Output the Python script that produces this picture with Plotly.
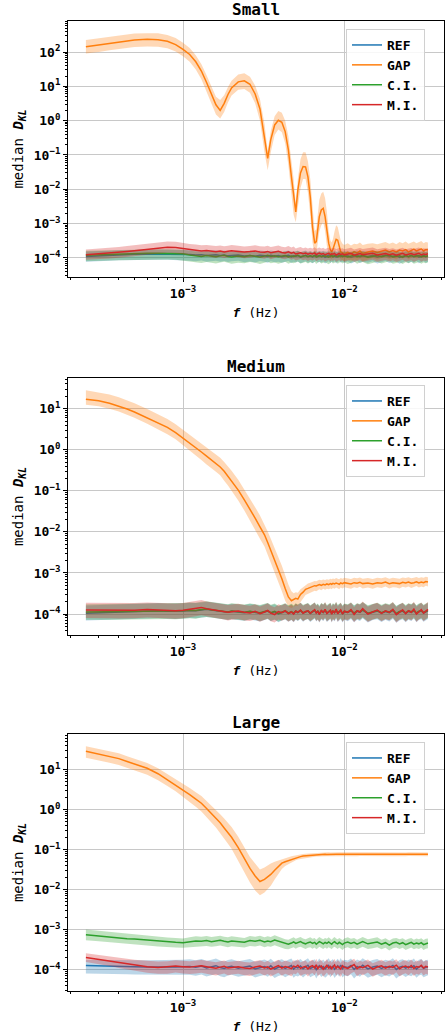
import plotly.graph_objects as go

# ---------------- data ----------------
# frequency grid in mHz
f_mhz = [0.25, 0.3, 0.35, 0.4, 0.45, 0.5, 0.6, 0.7, 0.8, 0.9, 1.0,
         1.1, 1.2, 1.3, 1.4, 1.5, 1.6, 1.7, 1.8, 1.9, 2.0,
         2.2, 2.4, 2.6, 2.8, 3.0, 3.2, 3.35, 3.5, 3.7, 3.9,
         4.1, 4.3, 4.5, 4.7, 4.85, 5.0, 5.15, 5.35, 5.55, 5.75,
         5.95, 6.15, 6.35, 6.55, 6.7, 6.85, 7.0, 7.2, 7.4, 7.6,
         7.8, 8.0, 8.2, 8.35, 8.5, 8.7, 8.9, 9.1, 9.3, 9.5,
         9.75, 10.0, 10.5, 11, 11.5, 12, 12.5, 13, 14, 15,
         16, 17, 18, 19, 20, 21, 22, 23, 24, 25,
         26, 27, 28, 29, 30, 31, 32, 33]

NOISE_UNIT = 1e-4  # REF / C.I. / M.I. values below are given in units of 1e-4

# ----- Small -----
gap_s = [143, 160, 180, 198, 213, 225, 234, 228, 205, 165, 120,
         85, 52, 28, 13, 6.0, 2.9, 2.0, 3.2, 5.8, 9.0,
         13.5, 14.5, 11.5, 6.0, 2.2, 0.34, 0.08, 0.28, 0.75, 1.03,
         0.9, 0.48, 0.14, 0.023, 0.006, 0.0022, 0.0095, 0.03, 0.046, 0.045,
         0.023, 0.006, 0.0008, 0.00027, 0.0003, 0.0008, 0.0016, 0.0025, 0.0028, 0.0016,
         0.00064, 0.00027, 0.00017, 0.00015, 0.00018, 0.00027, 0.00035, 0.00033, 0.0002, 0.00015,
         0.00014, 0.00013, 0.000145, 0.00013, 0.00015, 0.00014, 0.00016, 0.000135, 0.00015, 0.00016,
         0.000145, 0.00016, 0.00017, 0.00015, 0.000165, 0.00015, 0.00017, 0.00016, 0.000175, 0.00015,
         0.000165, 0.00018, 0.00016, 0.00017, 0.000185, 0.00016, 0.000175, 0.00017]
gap_s_hi = [224, 250, 280, 305, 330, 345, 355, 350, 315, 255, 185,
            130, 80, 44, 21, 10, 5.0, 4.0, 5.5, 9.5, 14.5,
            22, 24, 19, 10.5, 4.2, 0.8, 0.13, 0.5, 1.35, 1.9,
            1.7, 1.0, 0.35, 0.07, 0.02, 0.004, 0.02, 0.075, 0.12, 0.12,
            0.065, 0.02, 0.0035, 0.0006, 0.0007, 0.0025, 0.005, 0.0075, 0.0085, 0.0055,
            0.0022, 0.0006, 0.00032, 0.00028, 0.00035, 0.0006, 0.0009, 0.0008, 0.0005, 0.00032,
            0.00026, 0.00024, 0.00027, 0.00023, 0.00026, 0.00025, 0.00028, 0.00024, 0.00026, 0.00027,
            0.00025, 0.00027, 0.00029, 0.00026, 0.00028, 0.00025, 0.00029, 0.00027, 0.0003, 0.00026,
            0.00028, 0.0003, 0.00027, 0.00029, 0.00031, 0.00027, 0.00029, 0.00028]
gap_s_lo = [90, 100, 113, 124, 133, 140, 146, 142, 128, 103, 75,
            52, 31, 16, 7.0, 3.0, 1.5, 1.15, 1.8, 3.4, 5.4,
            8.0, 8.3, 6.5, 3.2, 1.0, 0.12, 0.036, 0.12, 0.38, 0.55,
            0.46, 0.22, 0.05, 0.007, 0.0018, 0.0011, 0.003, 0.011, 0.02, 0.02,
            0.008, 0.0018, 0.00028, 0.00012, 0.00013, 0.00028, 0.0006, 0.0009, 0.0011, 0.0006,
            0.00022, 0.00012, 0.0001, 0.00009, 0.0001, 0.00013, 0.00017, 0.00016, 0.00011, 0.00009,
            0.000085, 0.00008, 0.00009, 0.000078, 0.00009, 0.000085, 0.000095, 0.00008, 0.00009, 0.0001,
            0.000088, 0.0001, 0.000105, 0.00009, 0.0001, 0.00009, 0.000105, 0.000095, 0.00011, 0.00009,
            0.0001, 0.00011, 0.000095, 0.0001, 0.00011, 0.000095, 0.000105, 0.0001]

ref_s = [1.10, 1.15, 1.20, 1.24, 1.27, 1.28, 1.30, 1.30, 1.31, 1.30, 1.28,
         1.26, 1.22, 1.25, 1.18, 1.20, 1.23, 1.17, 1.21, 1.15, 1.19,
         1.22, 1.14, 1.18, 1.12, 1.20, 1.16, 1.10, 1.19, 1.13, 1.17,
         1.09, 1.14, 1.20, 1.08, 1.15, 1.12, 1.18, 1.06, 1.13, 1.19,
         1.10, 1.16, 1.07, 1.14, 1.21, 1.09, 1.15, 1.11, 1.18, 1.05,
         1.14, 1.20, 1.08, 1.16, 1.11, 1.19, 1.06, 1.13, 1.22, 1.09,
         1.15, 1.10, 1.18, 1.04, 1.14, 1.21, 1.07, 1.16, 1.10, 1.19,
         1.05, 1.15, 1.22, 1.08, 1.13, 1.18, 1.03, 1.12, 1.20, 1.07,
         1.16, 1.11, 1.21, 1.06, 1.14, 1.19, 1.09, 1.15]
ref_s_lo = [0.78, 0.80, 0.83, 0.85, 0.86, 0.87, 0.88, 0.88, 0.88, 0.87, 0.85,
            0.83, 0.80, 0.84, 0.78, 0.81, 0.83, 0.77, 0.82, 0.76, 0.80,
            0.83, 0.75, 0.79, 0.74, 0.81, 0.77, 0.73, 0.80, 0.75, 0.78,
            0.72, 0.76, 0.81, 0.71, 0.77, 0.74, 0.79, 0.70, 0.75, 0.80,
            0.73, 0.77, 0.70, 0.76, 0.81, 0.72, 0.77, 0.74, 0.79, 0.69,
            0.76, 0.80, 0.71, 0.77, 0.74, 0.80, 0.70, 0.75, 0.82, 0.72,
            0.77, 0.73, 0.79, 0.69, 0.76, 0.81, 0.71, 0.77, 0.73, 0.80,
            0.69, 0.76, 0.82, 0.71, 0.75, 0.79, 0.68, 0.74, 0.80, 0.71,
            0.77, 0.73, 0.81, 0.70, 0.76, 0.80, 0.72, 0.76]
ref_s_hi = [1.55, 1.60, 1.65, 1.70, 1.73, 1.75, 1.77, 1.77, 1.78, 1.77, 1.75,
            1.72, 1.66, 1.70, 1.62, 1.65, 1.68, 1.60, 1.66, 1.58, 1.63,
            1.67, 1.57, 1.62, 1.54, 1.65, 1.59, 1.52, 1.64, 1.56, 1.61,
            1.50, 1.57, 1.65, 1.49, 1.58, 1.54, 1.62, 1.46, 1.55, 1.64,
            1.52, 1.60, 1.47, 1.57, 1.66, 1.50, 1.58, 1.53, 1.62, 1.45,
            1.57, 1.65, 1.49, 1.60, 1.53, 1.64, 1.46, 1.56, 1.68, 1.50,
            1.58, 1.52, 1.62, 1.44, 1.57, 1.66, 1.48, 1.60, 1.52, 1.64,
            1.45, 1.58, 1.68, 1.49, 1.56, 1.62, 1.43, 1.55, 1.65, 1.48,
            1.60, 1.53, 1.66, 1.46, 1.57, 1.64, 1.50, 1.58]

ci_s = [1.20, 1.24, 1.28, 1.31, 1.33, 1.35, 1.36, 1.36, 1.37, 1.35, 1.32,
        1.22, 1.15, 1.10, 1.18, 1.12, 1.08, 1.15, 1.20, 1.11, 1.07,
        1.14, 1.09, 1.17, 1.12, 1.06, 1.13, 1.19, 1.10, 1.15, 1.08,
        1.12, 1.18, 1.07, 1.14, 1.10, 1.16, 1.20, 1.09, 1.13, 1.17,
        1.08, 1.15, 1.11, 1.19, 1.06, 1.14, 1.18, 1.09, 1.12, 1.16,
        1.10, 1.05, 1.14, 1.19, 1.08, 1.13, 1.17, 1.07, 1.12, 1.18,
        1.09, 1.15, 1.06, 1.13, 1.20, 1.08, 1.14, 1.17, 1.05, 1.12,
        1.18, 1.09, 1.14, 1.21, 1.07, 1.13, 1.16, 1.06, 1.15, 1.10,
        1.19, 1.08, 1.13, 1.17, 1.07, 1.14, 1.10, 1.16]
ci_s_lo = [0.80, 0.82, 0.84, 0.86, 0.88, 0.89, 0.90, 0.90, 0.90, 0.88, 0.85,
           0.78, 0.74, 0.71, 0.76, 0.72, 0.69, 0.74, 0.78, 0.71, 0.68,
           0.73, 0.70, 0.76, 0.72, 0.67, 0.73, 0.78, 0.70, 0.74, 0.68,
           0.72, 0.77, 0.68, 0.74, 0.70, 0.75, 0.79, 0.69, 0.73, 0.76,
           0.69, 0.75, 0.71, 0.78, 0.67, 0.74, 0.77, 0.69, 0.72, 0.75,
           0.70, 0.66, 0.74, 0.78, 0.69, 0.73, 0.76, 0.68, 0.72, 0.77,
           0.69, 0.75, 0.67, 0.73, 0.79, 0.68, 0.74, 0.76, 0.66, 0.72,
           0.77, 0.69, 0.74, 0.80, 0.68, 0.73, 0.75, 0.67, 0.75, 0.70,
           0.78, 0.68, 0.73, 0.76, 0.68, 0.74, 0.70, 0.75]
ci_s_hi = [1.62, 1.66, 1.70, 1.73, 1.75, 1.77, 1.78, 1.78, 1.79, 1.77, 1.74,
           1.62, 1.55, 1.50, 1.58, 1.52, 1.47, 1.55, 1.60, 1.50, 1.46,
           1.54, 1.48, 1.57, 1.52, 1.45, 1.53, 1.59, 1.49, 1.55, 1.47,
           1.52, 1.58, 1.46, 1.54, 1.49, 1.56, 1.61, 1.48, 1.53, 1.57,
           1.47, 1.55, 1.50, 1.60, 1.44, 1.54, 1.58, 1.48, 1.52, 1.56,
           1.49, 1.43, 1.54, 1.60, 1.47, 1.53, 1.57, 1.46, 1.52, 1.59,
           1.48, 1.55, 1.45, 1.53, 1.61, 1.47, 1.54, 1.58, 1.44, 1.52,
           1.59, 1.48, 1.54, 1.62, 1.46, 1.53, 1.56, 1.45, 1.55, 1.49,
           1.60, 1.47, 1.53, 1.58, 1.46, 1.54, 1.49, 1.56]

mi_s = [1.25, 1.32, 1.40, 1.48, 1.55, 1.62, 1.75, 1.90, 2.05, 2.00, 1.85,
        1.75, 1.68, 1.60, 1.64, 1.55, 1.52, 1.58, 1.50, 1.56, 1.62,
        1.55, 1.48, 1.53, 1.60, 1.50, 1.46, 1.55, 1.42, 1.50, 1.56,
        1.45, 1.40, 1.52, 1.38, 1.46, 1.30, 1.35, 1.42, 1.32, 1.38,
        1.28, 1.36, 1.30, 1.40, 1.26, 1.33, 1.38, 1.29, 1.35, 1.24,
        1.31, 1.37, 1.25, 1.32, 1.28, 1.36, 1.22, 1.30, 1.35, 1.26,
        1.32, 1.23, 1.30, 1.36, 1.21, 1.29, 1.34, 1.24, 1.31, 1.37,
        1.22, 1.30, 1.35, 1.25, 1.32, 1.20, 1.29, 1.36, 1.23, 1.31,
        1.34, 1.24, 1.30, 1.37, 1.22, 1.31, 1.27, 1.33]
mi_s_lo = [0.88, 0.92, 0.97, 1.02, 1.07, 1.12, 1.22, 1.32, 1.42, 1.38, 1.28,
           1.20, 1.15, 1.08, 1.12, 1.05, 1.02, 1.07, 1.00, 1.05, 1.10,
           1.04, 0.98, 1.02, 1.08, 0.99, 0.95, 1.03, 0.92, 0.99, 1.04,
           0.95, 0.91, 1.00, 0.89, 0.95, 0.84, 0.88, 0.93, 0.85, 0.90,
           0.82, 0.89, 0.84, 0.92, 0.80, 0.86, 0.90, 0.83, 0.88, 0.79,
           0.84, 0.89, 0.80, 0.85, 0.82, 0.88, 0.78, 0.83, 0.87, 0.80,
           0.85, 0.78, 0.83, 0.88, 0.77, 0.82, 0.86, 0.78, 0.84, 0.89,
           0.77, 0.83, 0.87, 0.79, 0.85, 0.76, 0.82, 0.88, 0.78, 0.84,
           0.86, 0.78, 0.83, 0.89, 0.77, 0.84, 0.81, 0.85]
mi_s_hi = [1.75, 1.85, 1.98, 2.10, 2.22, 2.35, 2.55, 2.80, 3.00, 2.95, 2.70,
           2.55, 2.45, 2.35, 2.40, 2.28, 2.22, 2.32, 2.20, 2.28, 2.38,
           2.27, 2.17, 2.24, 2.35, 2.20, 2.14, 2.27, 2.08, 2.20, 2.29,
           2.12, 2.05, 2.23, 2.02, 2.14, 1.90, 1.98, 2.08, 1.93, 2.02,
           1.87, 1.99, 1.90, 2.05, 1.84, 1.95, 2.02, 1.89, 1.98, 1.81,
           1.92, 2.01, 1.83, 1.93, 1.87, 1.99, 1.78, 1.90, 1.98, 1.84,
           1.93, 1.80, 1.90, 1.99, 1.77, 1.89, 1.96, 1.81, 1.91, 2.00,
           1.78, 1.90, 1.97, 1.83, 1.93, 1.75, 1.89, 1.99, 1.80, 1.91,
           1.96, 1.81, 1.90, 2.00, 1.78, 1.91, 1.86, 1.94]

# ----- Medium -----
gap_m = [17, 15.5, 13.5, 11.5, 9.8, 8.3, 6.0, 4.5, 3.5, 2.6, 1.93,
         1.45, 1.1, 0.88, 0.70, 0.57, 0.47, 0.38, 0.30, 0.225, 0.178,
         0.104, 0.06, 0.036, 0.0217, 0.0133, 0.0085, 0.0055, 0.0036, 0.0021, 0.00122,
         0.00072, 0.00042, 0.00026, 0.00021, 0.00022, 0.00024, 0.00023, 0.0003, 0.00034, 0.0004,
         0.00042, 0.00044, 0.00047, 0.00049, 0.00048, 0.0005, 0.00052, 0.0005, 0.00053, 0.00051,
         0.00054, 0.00052, 0.00055, 0.00053, 0.00056, 0.00054, 0.00057, 0.00055, 0.00053, 0.00057,
         0.00055, 0.00058, 0.00056, 0.00054, 0.00058, 0.00056, 0.00059, 0.00055, 0.00057, 0.00054,
         0.00058, 0.00056, 0.0006, 0.00055, 0.00058, 0.00057, 0.00055, 0.00059, 0.00057, 0.0006,
         0.00056, 0.00058, 0.00061, 0.00057, 0.0006, 0.00058, 0.00062, 0.0006]
gap_m_hi = [28, 25, 22, 19, 16, 13.5, 9.8, 7.3, 5.6, 4.2, 3.1,
            2.35, 1.8, 1.45, 1.15, 0.95, 0.78, 0.64, 0.5, 0.39, 0.31,
            0.185, 0.108, 0.066, 0.04, 0.025, 0.0155, 0.0102, 0.0068, 0.0041, 0.0025,
            0.0015, 0.00088, 0.00052, 0.00036, 0.00032, 0.00034, 0.00033, 0.0004, 0.00045, 0.00052,
            0.00055, 0.00058, 0.00061, 0.00064, 0.00063, 0.00065, 0.00068, 0.00066, 0.00069, 0.00067,
            0.0007, 0.00068, 0.00072, 0.0007, 0.00073, 0.00071, 0.00075, 0.00072, 0.0007, 0.00075,
            0.00072, 0.00076, 0.00074, 0.00071, 0.00076, 0.00074, 0.00077, 0.00072, 0.00075, 0.00071,
            0.00076, 0.00074, 0.00079, 0.00072, 0.00076, 0.00075, 0.00072, 0.00078, 0.00075, 0.00079,
            0.00074, 0.00076, 0.0008, 0.00075, 0.00079, 0.00076, 0.00081, 0.00079]
gap_m_lo = [12.5, 11.5, 10, 8.5, 7.2, 6, 4.3, 3.2, 2.4, 1.8, 1.3,
            0.95, 0.72, 0.56, 0.44, 0.35, 0.29, 0.24, 0.175, 0.135, 0.105,
            0.058, 0.033, 0.019, 0.0113, 0.0068, 0.0044, 0.0028, 0.0018, 0.00105, 0.0006,
            0.00036, 0.00021, 0.00015, 0.00014, 0.00015, 0.00016, 0.00016, 0.0002, 0.00024, 0.00029,
            0.00031, 0.00033, 0.00035, 0.00037, 0.00036, 0.00038, 0.0004, 0.00038, 0.00041, 0.00039,
            0.00041, 0.0004, 0.00042, 0.0004, 0.00043, 0.00041, 0.00044, 0.00042, 0.0004, 0.00044,
            0.00042, 0.00045, 0.00043, 0.00041, 0.00045, 0.00043, 0.00046, 0.00042, 0.00044, 0.00041,
            0.00045, 0.00043, 0.00047, 0.00042, 0.00045, 0.00044, 0.00042, 0.00046, 0.00044, 0.00047,
            0.00043, 0.00045, 0.00048, 0.00044, 0.00047, 0.00045, 0.00049, 0.00047]

ref_m = [1.05, 1.08, 1.10, 1.12, 1.13, 1.15, 1.18, 1.20, 1.17, 1.15, 1.18,
         1.22, 1.20, 1.25, 1.30, 1.26, 1.22, 1.18, 1.14, 1.10, 1.16,
         1.12, 1.08, 1.15, 1.10, 1.05, 1.12, 1.18, 1.06, 1.13, 1.00,
         1.10, 1.16, 1.04, 1.12, 1.02, 1.15, 1.08, 1.20, 1.05, 1.13,
         1.18, 1.03, 1.11, 1.22, 1.06, 1.14, 1.00, 1.17, 1.09, 1.21,
         1.04, 1.13, 1.19, 1.02, 1.15, 1.08, 1.23, 1.05, 1.12, 1.18,
         1.01, 1.14, 1.09, 1.20, 1.03, 1.16, 1.10, 1.24, 1.02, 1.13,
         1.19, 1.05, 1.15, 1.08, 1.22, 1.00, 1.12, 1.18, 1.04, 1.16,
         1.10, 1.21, 1.03, 1.14, 1.19, 1.06, 1.13, 1.20]
ref_m_lo = [0.70, 0.72, 0.73, 0.74, 0.75, 0.76, 0.78, 0.79, 0.77, 0.76, 0.78,
            0.80, 0.79, 0.82, 0.85, 0.82, 0.80, 0.77, 0.74, 0.71, 0.75,
            0.72, 0.69, 0.74, 0.70, 0.66, 0.72, 0.76, 0.67, 0.72, 0.63,
            0.70, 0.74, 0.65, 0.71, 0.63, 0.73, 0.68, 0.76, 0.65, 0.72,
            0.75, 0.64, 0.70, 0.78, 0.66, 0.72, 0.62, 0.74, 0.68, 0.77,
            0.64, 0.71, 0.76, 0.62, 0.73, 0.67, 0.78, 0.64, 0.70, 0.75,
            0.62, 0.72, 0.67, 0.76, 0.63, 0.73, 0.68, 0.79, 0.62, 0.71,
            0.75, 0.64, 0.72, 0.66, 0.77, 0.61, 0.70, 0.75, 0.63, 0.73,
            0.68, 0.77, 0.63, 0.71, 0.75, 0.65, 0.70, 0.76]
ref_m_hi = [1.62, 1.66, 1.70, 1.73, 1.75, 1.78, 1.82, 1.85, 1.80, 1.78, 1.82,
            1.88, 1.85, 1.92, 2.00, 1.94, 1.88, 1.82, 1.76, 1.70, 1.78,
            1.72, 1.66, 1.77, 1.70, 1.62, 1.72, 1.82, 1.63, 1.74, 1.55,
            1.70, 1.79, 1.60, 1.72, 1.57, 1.77, 1.66, 1.85, 1.62, 1.74,
            1.82, 1.59, 1.71, 1.88, 1.63, 1.76, 1.55, 1.80, 1.68, 1.86,
            1.60, 1.74, 1.83, 1.57, 1.77, 1.66, 1.89, 1.62, 1.72, 1.82,
            1.56, 1.76, 1.68, 1.85, 1.59, 1.79, 1.70, 1.91, 1.57, 1.74,
            1.83, 1.62, 1.77, 1.66, 1.88, 1.54, 1.72, 1.82, 1.60, 1.79,
            1.70, 1.86, 1.59, 1.76, 1.83, 1.63, 1.74, 1.85]

ci_m = [1.12, 1.13, 1.14, 1.14, 1.15, 1.16, 1.18, 1.19, 1.18, 1.17, 1.20,
        1.24, 1.21, 1.28, 1.32, 1.27, 1.23, 1.20, 1.16, 1.12, 1.18,
        1.14, 1.10, 1.17, 1.12, 1.07, 1.15, 1.20, 1.08, 1.16, 1.03,
        1.13, 1.19, 1.06, 1.14, 1.05, 1.18, 1.10, 1.22, 1.08, 1.16,
        1.20, 1.06, 1.14, 1.24, 1.09, 1.17, 1.03, 1.20, 1.12, 1.23,
        1.07, 1.16, 1.22, 1.05, 1.18, 1.11, 1.26, 1.08, 1.15, 1.21,
        1.04, 1.17, 1.12, 1.23, 1.06, 1.19, 1.13, 1.27, 1.05, 1.16,
        1.22, 1.08, 1.18, 1.11, 1.25, 1.03, 1.15, 1.21, 1.07, 1.19,
        1.13, 1.24, 1.06, 1.17, 1.22, 1.09, 1.16, 1.23]
ci_m_lo = [0.72, 0.72, 0.73, 0.73, 0.74, 0.74, 0.76, 0.76, 0.76, 0.75, 0.77,
           0.79, 0.77, 0.82, 0.84, 0.81, 0.79, 0.77, 0.74, 0.72, 0.76,
           0.73, 0.70, 0.75, 0.72, 0.68, 0.74, 0.77, 0.69, 0.74, 0.66,
           0.72, 0.76, 0.68, 0.73, 0.67, 0.76, 0.70, 0.78, 0.69, 0.74,
           0.77, 0.68, 0.73, 0.79, 0.70, 0.75, 0.66, 0.77, 0.72, 0.79,
           0.68, 0.74, 0.78, 0.67, 0.76, 0.71, 0.81, 0.69, 0.74, 0.77,
           0.67, 0.75, 0.72, 0.79, 0.68, 0.76, 0.72, 0.81, 0.67, 0.74,
           0.78, 0.69, 0.76, 0.71, 0.80, 0.66, 0.74, 0.77, 0.68, 0.76,
           0.72, 0.79, 0.68, 0.75, 0.78, 0.70, 0.74, 0.79]
ci_m_hi = [1.74, 1.75, 1.77, 1.77, 1.78, 1.80, 1.83, 1.84, 1.83, 1.81, 1.86,
           1.92, 1.88, 1.98, 2.05, 1.97, 1.91, 1.86, 1.80, 1.74, 1.83,
           1.77, 1.71, 1.81, 1.74, 1.66, 1.78, 1.86, 1.67, 1.80, 1.60,
           1.75, 1.84, 1.64, 1.77, 1.63, 1.83, 1.71, 1.89, 1.67, 1.80,
           1.86, 1.64, 1.77, 1.92, 1.69, 1.81, 1.60, 1.86, 1.74, 1.91,
           1.66, 1.80, 1.89, 1.63, 1.83, 1.72, 1.95, 1.67, 1.78, 1.88,
           1.61, 1.81, 1.74, 1.91, 1.64, 1.84, 1.75, 1.97, 1.63, 1.80,
           1.89, 1.67, 1.83, 1.72, 1.94, 1.60, 1.78, 1.88, 1.66, 1.84,
           1.75, 1.92, 1.64, 1.81, 1.89, 1.69, 1.80, 1.91]

mi_m = [1.25, 1.25, 1.24, 1.22, 1.21, 1.23, 1.28, 1.26, 1.22, 1.20, 1.24,
        1.30, 1.38, 1.45, 1.35, 1.28, 1.25, 1.20, 1.15, 1.10, 1.14,
        1.18, 1.10, 1.06, 1.16, 1.02, 1.12, 1.22, 1.05, 0.97, 1.15,
        1.08, 1.20, 1.02, 1.12, 1.00, 1.18, 1.10, 1.25, 1.05, 1.15,
        1.20, 1.04, 1.14, 1.28, 1.06, 1.16, 0.98, 1.22, 1.10, 1.30,
        1.03, 1.15, 1.24, 0.99, 1.18, 1.08, 1.32, 1.02, 1.14, 1.26,
        1.00, 1.17, 1.10, 1.28, 0.98, 1.20, 1.12, 1.35, 1.00, 1.15,
        1.25, 1.04, 1.19, 1.09, 1.30, 0.97, 1.14, 1.26, 1.02, 1.20,
        1.10, 1.32, 1.00, 1.16, 1.27, 1.05, 1.15, 1.30]
mi_m_lo = [0.80, 0.80, 0.79, 0.78, 0.77, 0.79, 0.82, 0.81, 0.78, 0.77, 0.79,
           0.83, 0.88, 0.93, 0.86, 0.82, 0.80, 0.77, 0.74, 0.70, 0.73,
           0.76, 0.70, 0.68, 0.74, 0.65, 0.72, 0.78, 0.67, 0.62, 0.74,
           0.69, 0.77, 0.65, 0.72, 0.64, 0.76, 0.70, 0.80, 0.67, 0.74,
           0.77, 0.67, 0.73, 0.82, 0.68, 0.74, 0.63, 0.78, 0.70, 0.83,
           0.66, 0.74, 0.79, 0.63, 0.76, 0.69, 0.84, 0.65, 0.73, 0.81,
           0.64, 0.75, 0.70, 0.82, 0.63, 0.77, 0.72, 0.86, 0.64, 0.74,
           0.80, 0.67, 0.76, 0.70, 0.83, 0.62, 0.73, 0.81, 0.65, 0.77,
           0.70, 0.84, 0.64, 0.74, 0.81, 0.67, 0.74, 0.83]
mi_m_hi = [1.88, 1.88, 1.86, 1.83, 1.82, 1.85, 1.92, 1.89, 1.83, 1.80, 1.86,
           1.95, 2.07, 2.18, 2.03, 1.92, 1.88, 1.80, 1.73, 1.65, 1.71,
           1.77, 1.65, 1.59, 1.74, 1.53, 1.68, 1.83, 1.58, 1.46, 1.73,
           1.62, 1.80, 1.53, 1.68, 1.50, 1.77, 1.65, 1.88, 1.58, 1.73,
           1.80, 1.56, 1.71, 1.92, 1.59, 1.74, 1.47, 1.83, 1.65, 1.95,
           1.55, 1.73, 1.86, 1.49, 1.77, 1.62, 1.98, 1.53, 1.71, 1.89,
           1.50, 1.76, 1.65, 1.92, 1.47, 1.80, 1.68, 2.03, 1.50, 1.73,
           1.88, 1.56, 1.79, 1.64, 1.95, 1.46, 1.71, 1.89, 1.53, 1.80,
           1.65, 1.98, 1.50, 1.74, 1.91, 1.58, 1.73, 1.95]

# ----- Large -----
gap_l = [29, 24.7, 21.6, 19.0, 16.1, 14.0, 10.9, 7.95, 5.66, 4.19, 3.2,
         2.4, 1.85, 1.45, 1.07, 0.81, 0.62, 0.47, 0.35, 0.267, 0.205,
         0.113, 0.059, 0.034, 0.022, 0.016, 0.018, 0.021, 0.024, 0.0306, 0.038,
         0.046, 0.0497, 0.053, 0.057, 0.059, 0.062, 0.065, 0.067, 0.069, 0.070,
         0.071, 0.072, 0.073, 0.074, 0.075, 0.0755, 0.076, 0.0762, 0.0758, 0.0765,
         0.0762, 0.0768, 0.0764, 0.077, 0.0766, 0.0762, 0.0768, 0.0765, 0.0771, 0.0766,
         0.0763, 0.0769, 0.0765, 0.0772, 0.0767, 0.0764, 0.077, 0.0766, 0.0773, 0.0768,
         0.0765, 0.0771, 0.0767, 0.0763, 0.0769, 0.0774, 0.0766, 0.077, 0.0765, 0.0772,
         0.0768, 0.0764, 0.077, 0.0767, 0.0773, 0.0766, 0.0769, 0.0765]
gap_l_hi = [39, 33.5, 29.3, 25.8, 21.8, 19.0, 14.8, 10.9, 7.8, 5.9, 4.6,
            3.5, 2.75, 2.2, 1.65, 1.28, 1.0, 0.77, 0.6, 0.47, 0.37,
            0.21, 0.11, 0.066, 0.045, 0.032, 0.036, 0.041, 0.045, 0.05, 0.054,
            0.059, 0.062, 0.065, 0.068, 0.07, 0.072, 0.075, 0.077, 0.078, 0.079,
            0.08, 0.081, 0.082, 0.083, 0.084, 0.0845, 0.085, 0.0852, 0.0848, 0.0855,
            0.0852, 0.0858, 0.0854, 0.086, 0.0856, 0.0852, 0.0858, 0.0855, 0.0861, 0.0856,
            0.0853, 0.0859, 0.0855, 0.0862, 0.0857, 0.0854, 0.086, 0.0856, 0.0863, 0.0858,
            0.0855, 0.0861, 0.0857, 0.0853, 0.0859, 0.0864, 0.0856, 0.086, 0.0855, 0.0862,
            0.0858, 0.0854, 0.086, 0.0857, 0.0863, 0.0856, 0.0859, 0.0855]
gap_l_lo = [20, 17, 14.9, 13.1, 11.1, 9.7, 7.5, 5.5, 3.9, 2.9, 2.1,
            1.55, 1.18, 0.9, 0.65, 0.48, 0.36, 0.26, 0.19, 0.14, 0.105,
            0.055, 0.027, 0.015, 0.0095, 0.0072, 0.0085, 0.0105, 0.0125, 0.018, 0.025,
            0.033, 0.039, 0.044, 0.048, 0.051, 0.054, 0.057, 0.059, 0.061, 0.062,
            0.063, 0.064, 0.065, 0.066, 0.067, 0.0675, 0.068, 0.0682, 0.0678, 0.0685,
            0.0682, 0.0688, 0.0684, 0.069, 0.0686, 0.0682, 0.0688, 0.0685, 0.0691, 0.0686,
            0.0683, 0.0689, 0.0685, 0.0692, 0.0687, 0.0684, 0.069, 0.0686, 0.0693, 0.0688,
            0.0685, 0.0691, 0.0687, 0.0683, 0.0689, 0.0694, 0.0686, 0.069, 0.0685, 0.0692,
            0.0688, 0.0684, 0.069, 0.0687, 0.0693, 0.0686, 0.0689, 0.0685]

ref_l = [1.26, 1.25, 1.24, 1.22, 1.20, 1.18, 1.15, 1.14, 1.16, 1.15, 1.17,
         1.20, 1.14, 1.22, 1.10, 1.18, 1.25, 1.12, 1.06, 1.16, 1.21,
         1.08, 1.15, 1.22, 1.04, 1.13, 1.19, 1.09, 1.24, 1.02, 1.14,
         1.20, 1.07, 1.17, 1.26, 1.03, 1.15, 1.10, 1.22, 1.05, 1.18,
         1.28, 1.06, 1.14, 1.20, 1.00, 1.16, 1.25, 1.08, 1.19, 1.04,
         1.13, 1.27, 1.07, 1.18, 1.22, 1.02, 1.15, 1.24, 1.09, 1.30,
         1.05, 1.17, 1.12, 1.26, 1.01, 1.19, 1.10, 1.28, 1.04, 1.16,
         1.22, 1.06, 1.18, 1.11, 1.27, 1.00, 1.15, 1.21, 1.08, 1.19,
         1.12, 1.25, 1.03, 1.17, 1.22, 1.07, 1.14, 1.18]
ref_l_lo = [0.80, 0.79, 0.78, 0.77, 0.76, 0.75, 0.73, 0.72, 0.73, 0.72, 0.74,
            0.74, 0.70, 0.75, 0.67, 0.72, 0.77, 0.68, 0.64, 0.71, 0.74,
            0.66, 0.70, 0.75, 0.63, 0.69, 0.73, 0.66, 0.76, 0.61, 0.69,
            0.73, 0.64, 0.71, 0.77, 0.62, 0.70, 0.67, 0.74, 0.63, 0.72,
            0.78, 0.64, 0.69, 0.73, 0.60, 0.70, 0.76, 0.65, 0.72, 0.62,
            0.68, 0.77, 0.64, 0.72, 0.74, 0.61, 0.70, 0.75, 0.66, 0.79,
            0.63, 0.71, 0.68, 0.76, 0.60, 0.72, 0.66, 0.78, 0.62, 0.70,
            0.74, 0.64, 0.72, 0.67, 0.77, 0.60, 0.70, 0.73, 0.65, 0.72,
            0.68, 0.76, 0.62, 0.71, 0.74, 0.64, 0.69, 0.72]
ref_l_hi = [1.75, 1.76, 1.76, 1.75, 1.74, 1.72, 1.70, 1.70, 1.72, 1.72, 1.75,
            1.80, 1.71, 1.83, 1.65, 1.77, 1.88, 1.68, 1.59, 1.74, 1.82,
            1.62, 1.73, 1.83, 1.56, 1.70, 1.79, 1.64, 1.86, 1.53, 1.71,
            1.80, 1.61, 1.76, 1.89, 1.55, 1.73, 1.65, 1.83, 1.58, 1.77,
            1.92, 1.59, 1.71, 1.80, 1.50, 1.74, 1.88, 1.62, 1.79, 1.56,
            1.70, 1.91, 1.61, 1.77, 1.83, 1.53, 1.73, 1.86, 1.64, 1.95,
            1.58, 1.76, 1.68, 1.89, 1.52, 1.79, 1.65, 1.92, 1.56, 1.74,
            1.83, 1.59, 1.77, 1.67, 1.91, 1.50, 1.73, 1.82, 1.62, 1.79,
            1.68, 1.88, 1.55, 1.76, 1.83, 1.61, 1.71, 1.77]

ci_l = [7.4, 6.9, 6.4, 6.0, 5.9, 5.8, 5.4, 5.1, 4.9, 4.8, 4.7,
        4.9, 5.2, 5.1, 5.3, 5.0, 5.2, 5.4, 5.1, 4.9, 5.2,
        5.0, 4.8, 5.3, 5.1, 5.4, 4.9, 5.2, 5.0, 5.5, 5.1,
        4.7, 4.4, 4.3, 4.6, 4.9, 4.5, 4.8, 5.0, 4.6, 4.4,
        4.7, 4.9, 4.5, 4.8, 4.3, 4.6, 5.0, 4.7, 4.4, 4.8,
        4.5, 4.9, 4.6, 4.3, 4.7, 5.0, 4.6, 4.4, 4.8, 4.5,
        4.2, 4.6, 4.9, 4.5, 4.8, 4.3, 4.7, 5.0, 4.4, 4.6,
        4.9, 4.3, 4.7, 4.1, 4.6, 4.8, 4.4, 4.7, 4.2, 4.5,
        4.8, 4.3, 4.6, 4.4, 4.7, 4.2, 4.5, 4.6]
ci_l_lo = [5.4, 5.1, 4.8, 4.5, 4.4, 4.3, 4.0, 3.8, 3.6, 3.55, 3.5,
           3.6, 3.85, 3.8, 3.9, 3.7, 3.85, 4.0, 3.8, 3.6, 3.85,
           3.7, 3.55, 3.9, 3.8, 4.0, 3.6, 3.85, 3.7, 4.05, 3.8,
           3.5, 3.25, 3.2, 3.4, 3.6, 3.3, 3.55, 3.7, 3.4, 3.25,
           3.5, 3.6, 3.3, 3.55, 3.2, 3.4, 3.7, 3.5, 3.25, 3.55,
           3.3, 3.6, 3.4, 3.2, 3.5, 3.7, 3.4, 3.25, 3.55, 3.3,
           3.1, 3.4, 3.6, 3.3, 3.55, 3.2, 3.5, 3.7, 3.25, 3.4,
           3.6, 3.2, 3.5, 3.0, 3.4, 3.55, 3.25, 3.5, 3.1, 3.3,
           3.55, 3.2, 3.4, 3.25, 3.5, 3.1, 3.3, 3.4]
ci_l_hi = [10.0, 9.3, 8.6, 8.0, 7.7, 7.5, 7.0, 6.6, 6.3, 6.2, 6.0,
           6.4, 6.8, 6.6, 6.9, 6.5, 6.8, 7.0, 6.6, 6.4, 6.8,
           6.5, 6.2, 6.9, 6.6, 7.0, 6.4, 6.8, 6.5, 7.2, 6.6,
           6.1, 5.7, 5.6, 6.0, 6.4, 5.9, 6.2, 6.5, 6.0, 5.7,
           6.1, 6.4, 5.9, 6.2, 5.6, 6.0, 6.5, 6.1, 5.7, 6.2,
           5.9, 6.4, 6.0, 5.6, 6.1, 6.5, 6.0, 5.7, 6.2, 5.9,
           5.5, 6.0, 6.4, 5.9, 6.2, 5.6, 6.1, 6.5, 5.7, 6.0,
           6.4, 5.6, 6.1, 5.3, 6.0, 6.2, 5.7, 6.1, 5.5, 5.9,
           6.2, 5.6, 6.0, 5.7, 6.1, 5.5, 5.9, 6.0]

mi_l = [2.00, 1.80, 1.62, 1.48, 1.38, 1.30, 1.18, 1.12, 1.15, 1.22, 1.18,
        1.15, 1.20, 1.24, 1.18, 1.12, 1.08, 1.15, 1.20, 1.10, 1.14,
        1.18, 1.10, 1.06, 1.16, 1.22, 1.09, 1.17, 1.03, 1.14, 1.25,
        1.08, 1.19, 1.12, 1.05, 1.22, 1.16, 1.28, 1.07, 1.15, 1.20,
        1.04, 1.18, 1.25, 1.10, 1.32, 1.06, 1.17, 1.23, 1.02, 1.14,
        1.28, 1.09, 1.20, 1.05, 1.16, 1.30, 1.08, 1.21, 1.12, 1.03,
        1.25, 1.14, 1.07, 1.22, 1.33, 1.05, 1.18, 1.11, 1.27, 1.02,
        1.16, 1.24, 1.08, 1.20, 1.13, 1.29, 1.04, 1.17, 1.23, 1.10,
        1.26, 1.06, 1.19, 1.14, 1.28, 1.09, 1.21, 1.15]
mi_l_lo = [1.55, 1.38, 1.22, 1.10, 1.00, 0.93, 0.83, 0.78, 0.79, 0.84, 0.80,
           0.77, 0.80, 0.83, 0.78, 0.74, 0.71, 0.76, 0.80, 0.72, 0.75,
           0.78, 0.72, 0.69, 0.76, 0.81, 0.71, 0.77, 0.67, 0.75, 0.83,
           0.70, 0.78, 0.73, 0.68, 0.80, 0.76, 0.85, 0.69, 0.75, 0.79,
           0.67, 0.77, 0.82, 0.72, 0.87, 0.69, 0.76, 0.81, 0.66, 0.74,
           0.84, 0.71, 0.79, 0.68, 0.76, 0.86, 0.70, 0.80, 0.73, 0.66,
           0.82, 0.74, 0.69, 0.80, 0.88, 0.68, 0.77, 0.72, 0.84, 0.66,
           0.76, 0.81, 0.70, 0.79, 0.73, 0.85, 0.67, 0.76, 0.81, 0.72,
           0.83, 0.69, 0.78, 0.74, 0.84, 0.71, 0.79, 0.75]
mi_l_hi = [2.55, 2.30, 2.10, 1.95, 1.85, 1.77, 1.65, 1.58, 1.62, 1.70, 1.65,
           1.62, 1.69, 1.74, 1.66, 1.58, 1.52, 1.62, 1.69, 1.55, 1.60,
           1.66, 1.55, 1.49, 1.63, 1.72, 1.53, 1.65, 1.45, 1.60, 1.76,
           1.52, 1.68, 1.58, 1.48, 1.72, 1.63, 1.80, 1.51, 1.62, 1.69,
           1.46, 1.66, 1.76, 1.55, 1.86, 1.49, 1.65, 1.73, 1.44, 1.60,
           1.80, 1.53, 1.69, 1.48, 1.63, 1.83, 1.52, 1.70, 1.58, 1.45,
           1.76, 1.60, 1.51, 1.72, 1.87, 1.48, 1.66, 1.56, 1.79, 1.44,
           1.63, 1.75, 1.52, 1.69, 1.59, 1.82, 1.46, 1.65, 1.73, 1.55,
           1.78, 1.49, 1.68, 1.61, 1.80, 1.54, 1.70, 1.62]

panel_titles = ["Small", "Medium", "Large"]
series_names = ["REF", "GAP", "C.I.", "M.I."]
series_colors = ["#1f77b4", "#ff7f0e", "#2ca02c", "#d62728"]
band_colors = ["rgba(31,119,180,0.3)", "rgba(255,127,14,0.3)",
               "rgba(44,160,44,0.3)", "rgba(214,39,40,0.3)"]

x_tick_vals = [1e-3, 1e-2]
x_tick_text = ["10<sup>\u22123</sup>", "10<sup>\u22122</sup>"]
y_tick_vals_small = [1e-4, 1e-3, 1e-2, 1e-1, 1e0, 1e1, 1e2]
y_tick_text_small = ["10<sup>\u22124</sup>", "10<sup>\u22123</sup>", "10<sup>\u22122</sup>",
                     "10<sup>\u22121</sup>", "10<sup>0</sup>", "10<sup>1</sup>", "10<sup>2</sup>"]
y_tick_vals_ml = [1e-4, 1e-3, 1e-2, 1e-1, 1e0, 1e1]
y_tick_text_ml = y_tick_text_small[:6]

# ---------------- figure ----------------
freq = [v * 1e-3 for v in f_mhz]


def scale(lst, k):
    return [v * k for v in lst]


panels = [
    dict(series=[(scale(ref_s, NOISE_UNIT), scale(ref_s_lo, NOISE_UNIT), scale(ref_s_hi, NOISE_UNIT)),
                 (gap_s, gap_s_lo, gap_s_hi),
                 (scale(ci_s, NOISE_UNIT), scale(ci_s_lo, NOISE_UNIT), scale(ci_s_hi, NOISE_UNIT)),
                 (scale(mi_s, NOISE_UNIT), scale(mi_s_lo, NOISE_UNIT), scale(mi_s_hi, NOISE_UNIT))],
         yrange=[-4.555, 2.904], ydom=[1 - 277 / 1036, 1 - 21 / 1036],
         ytv=y_tick_vals_small, ytt=y_tick_text_small, title_y=10, leg_y=29),
    dict(series=[(scale(ref_m, NOISE_UNIT), scale(ref_m_lo, NOISE_UNIT), scale(ref_m_hi, NOISE_UNIT)),
                 (gap_m, gap_m_lo, gap_m_hi),
                 (scale(ci_m, NOISE_UNIT), scale(ci_m_lo, NOISE_UNIT), scale(ci_m_hi, NOISE_UNIT)),
                 (scale(mi_m, NOISE_UNIT), scale(mi_m_lo, NOISE_UNIT), scale(mi_m_hi, NOISE_UNIT))],
         yrange=[-4.511, 1.747], ydom=[1 - 635 / 1036, 1 - 378 / 1036],
         ytv=y_tick_vals_ml, ytt=y_tick_text_ml, title_y=366, leg_y=385),
    dict(series=[(scale(ref_l, NOISE_UNIT), scale(ref_l_lo, NOISE_UNIT), scale(ref_l_hi, NOISE_UNIT)),
                 (gap_l, gap_l_lo, gap_l_hi),
                 (scale(ci_l, NOISE_UNIT), scale(ci_l_lo, NOISE_UNIT), scale(ci_l_hi, NOISE_UNIT)),
                 (scale(mi_l, NOISE_UNIT), scale(mi_l_lo, NOISE_UNIT), scale(mi_l_hi, NOISE_UNIT))],
         yrange=[-4.537, 1.895], ydom=[1 - 991 / 1036, 1 - 734 / 1036],
         ytv=y_tick_vals_ml, ytt=y_tick_text_ml, title_y=722, leg_y=742),
]

FONT = "DejaVu Sans Mono"
W, H = 445, 1036
ML, MR = 68, 1

fig = go.Figure()
minor_x = [m * 10.0 ** e for e in range(-4, -1) for m in range(2, 10)]
minor_y = [m * 10.0 ** e for e in range(-5, 3) for m in range(2, 10)]

annotations = []
layout = {}
for i, p in enumerate(panels):
    sfx = "" if i == 0 else str(i + 1)
    xref, yref = "x" + sfx, "y" + sfx
    legname = "legend" + sfx
    for (med, lo, hi), name, col, bcol in zip(p["series"], series_names, series_colors, band_colors):
        fig.add_trace(go.Scatter(
            x=freq + freq[::-1], y=hi + lo[::-1], fill="toself", fillcolor=bcol,
            line=dict(width=0), mode="lines", hoverinfo="skip", showlegend=False,
            xaxis=xref, yaxis=yref))
        fig.add_trace(go.Scatter(
            x=freq, y=med, mode="lines", name=name, line=dict(color=col, width=1.5),
            xaxis=xref, yaxis=yref, legend=legname))
    layout["xaxis" + sfx] = dict(
        type="log", range=[-3.713, -1.382], domain=[0, 1], anchor=yref,
        tickmode="array", tickvals=x_tick_vals, ticktext=x_tick_text,
        ticks="outside", ticklen=4, tickwidth=1, tickcolor="black",
        tickfont=dict(family=FONT, size=13, color="black", weight="bold"),
        showline=True, linecolor="black", linewidth=1, mirror=True,
        showgrid=True, gridcolor="#c8c8c8", gridwidth=1, zeroline=False,
        minor=dict(tickmode="array", tickvals=minor_x, ticks="outside", ticklen=2,
                   tickwidth=0.7, tickcolor="black", showgrid=False),
        title=dict(text="<b><i>f</i></b> (Hz)", font=dict(family=FONT, size=13, color="black"),
                   standoff=8),
        automargin=False)
    layout["yaxis" + sfx] = dict(
        type="log", range=p["yrange"], domain=p["ydom"], anchor=xref,
        tickmode="array", tickvals=p["ytv"], ticktext=p["ytt"],
        ticks="outside", ticklen=4, tickwidth=1, tickcolor="black",
        tickfont=dict(family=FONT, size=13, color="black", weight="bold"),
        showline=True, linecolor="black", linewidth=1, mirror=True,
        showgrid=True, gridcolor="#c8c8c8", gridwidth=1, zeroline=False,
        minor=dict(tickmode="array", tickvals=minor_y, ticks="outside", ticklen=2,
                   tickwidth=0.7, tickcolor="black", showgrid=False),
        title=dict(text="median <b><i>D</i></b><sub><b><i>KL</i></b></sub>",
                   font=dict(family=FONT, size=14, color="black"), standoff=6),
        automargin=False)
    layout[legname] = dict(
        x=(346 - ML) / (W - ML - MR), y=1 - p["leg_y"] / H, xanchor="left", yanchor="top",
        bgcolor="rgba(255,255,255,0.85)", bordercolor="#d0d0d0", borderwidth=1,
        font=dict(family=FONT, size=13, color="black", weight="bold"),
        itemwidth=30, tracegroupgap=0)
    annotations.append(dict(
        text="<b>%s</b>" % panel_titles[i], x=0.5, xref="paper", xanchor="center",
        y=1 - p["title_y"] / H, yref="paper", yanchor="middle", showarrow=False,
        font=dict(family=FONT, size=16, color="black")))

fig.update_layout(
    width=W, height=H, margin=dict(l=ML, r=MR, t=0, b=0),
    paper_bgcolor="white", plot_bgcolor="white",
    annotations=annotations, **layout)

fig.write_html("out.html")
